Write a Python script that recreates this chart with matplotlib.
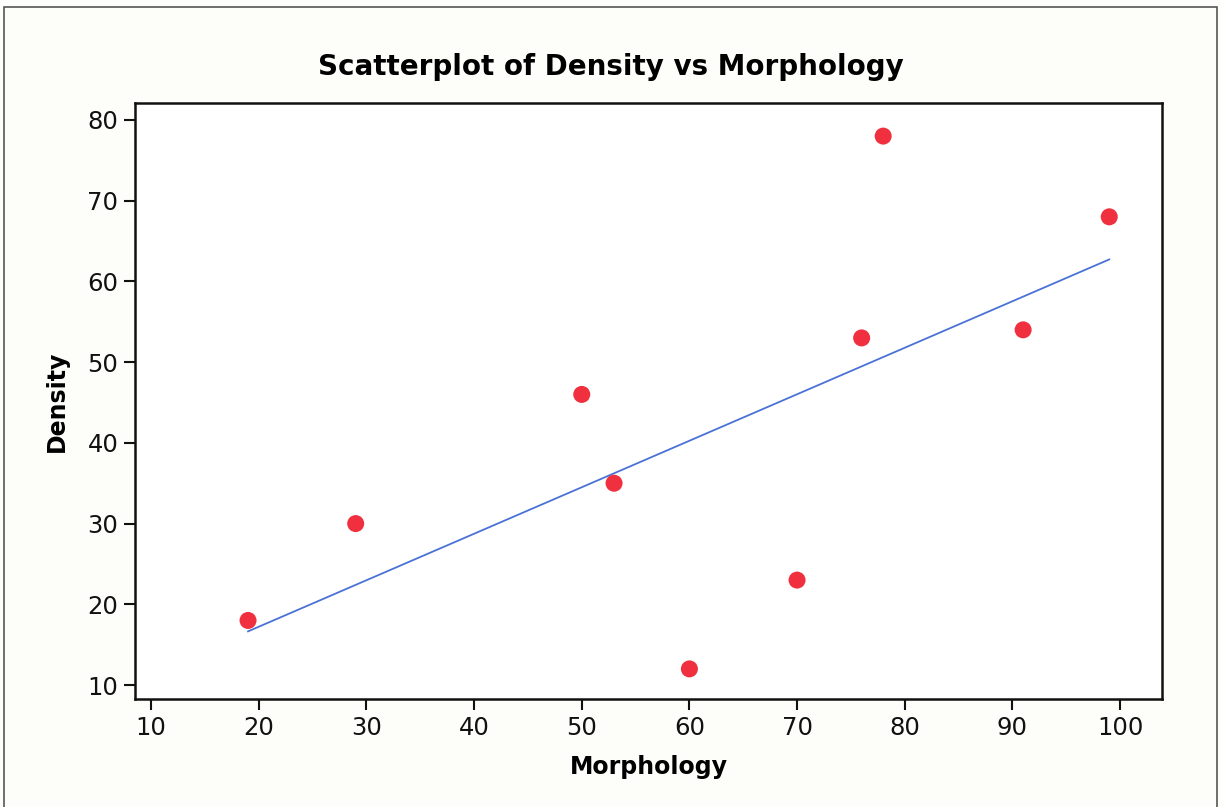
import numpy as np
import matplotlib.pyplot as plt
from matplotlib.patches import Rectangle

morphology = [19, 29, 50, 53, 60, 70, 76, 78, 91, 99]
density = [18, 30, 46, 35, 12, 23, 53, 78, 54, 68]
xticks = [10, 20, 30, 40, 50, 60, 70, 80, 90, 100]
yticks = [10, 20, 30, 40, 50, 60, 70, 80]

plt.rcParams["font.family"] = ["DejaVu Sans"]

fig = plt.figure(figsize=(12.22, 8.07), dpi=100, facecolor="#fdfdf9")
fig.patches.append(Rectangle((0.0035, -0.02), 0.9925, 1.011, transform=fig.transFigure,
                             fill=False, edgecolor="#555555", linewidth=1.2))
ax = fig.add_axes([135/1222, 1 - 699/807, (1162-135)/1222, (699-103)/807])
ax.set_facecolor("white")

# least-squares fit line
b, a = np.polyfit(morphology, density, 1)
xs = np.array([min(morphology), max(morphology)])
ax.plot(xs, a + b*xs, color="#4a72d6", linewidth=1.3, zorder=2)
ax.scatter(morphology, density, s=150, color="#f0303f", edgecolors="none", zorder=3)

ax.set_xlim(8.5, 103.9)
ax.set_ylim(8.27, 82.1)
ax.set_xticks(xticks)
ax.set_yticks(yticks)
ax.tick_params(direction="out", length=8, width=1.5, labelsize=17.5, colors="#111111", pad=4)
for s in ax.spines.values():
    s.set_linewidth(1.8)
    s.set_color("#111111")

fig.text(0.5, 1 - 67/807, "Scatterplot of Density vs Morphology",
         ha="center", va="center", fontsize=20, fontweight="bold")
fig.text(0.5*(135+1162)/1222, 1 - 767/807, "Morphology", ha="center", va="center",
         fontsize=17, fontweight="bold")
fig.text(57/1222, 1 - 401/807, "Density", ha="center", va="center", rotation=90,
         fontsize=17, fontweight="bold")

fig.savefig("out.png", dpi=100, facecolor=fig.get_facecolor())
